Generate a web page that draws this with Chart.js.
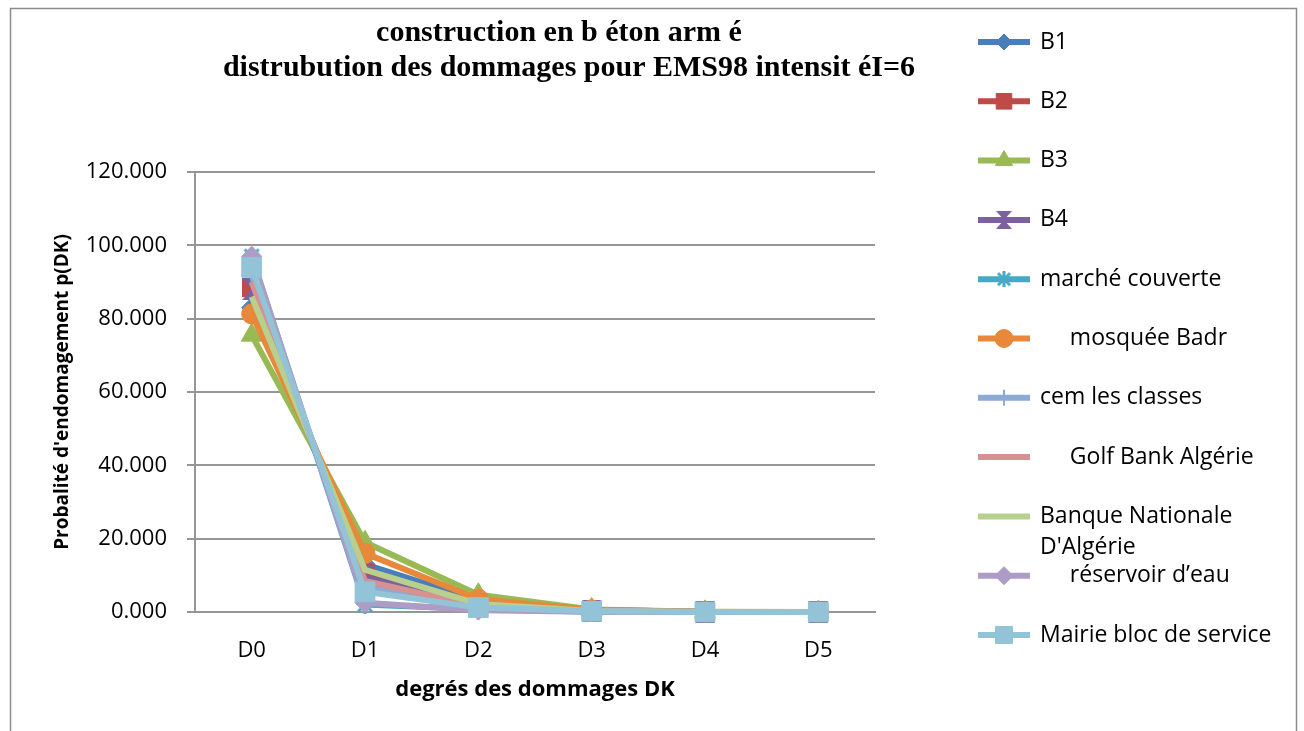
<!DOCTYPE html>
<html>
<head>
<meta charset="utf-8">
<script src="https://cdn.jsdelivr.net/npm/chart.js@4.4.1/dist/chart.umd.min.js"></script>
<style>
  html, body { margin: 0; padding: 0; background: #fff; overflow: hidden; }
  #wrap { position: relative; width: 1304px; height: 731px; }
</style>
</head>
<body>
<div id="wrap"><canvas id="chart"></canvas></div>
<script>
// categories and tick values
const categories = ['D0', 'D1', 'D2', 'D3', 'D4', 'D5'];
const yTickValues = [0, 20, 40, 60, 80, 100, 120];

const titleLines = [
  'construction en b \u00e9ton arm \u00e9',
  'distrubution des dommages pour EMS98 intensit \u00e9I=6'
];
const xTitle = 'degr\u00e9s des dommages DK';
const yTitle = "Probalit\u00e9 d'endomagement p(DK)";

const seriesNames = [
  'B1', 'B2', 'B3', 'B4', 'march\u00e9 couverte', '     mosqu\u00e9e Badr',
  'cem les classes', '     Golf Bank Alg\u00e9rie', "Banque Nationale D'Alg\u00e9rie",
  '     r\u00e9servoir d\u2019eau', 'Mairie bloc de service'
];

// p(DK) per building
const b1 = [83.0, 13.0, 3.2, 0.6, 0.02, 0];
const b2 = [88.5, 10.5, 2.5, 0.4, 0.02, 0];
const b3 = [75.5, 19.0, 4.7, 0.7, 0.05, 0];
const b4 = [88.0, 9.5, 2.0, 0.4, 0.02, 0];
const marche = [97.0, 2.0, 0.8, 0.1, 0, 0];
const mosquee = [81.3, 16.0, 3.5, 0.6, 0.03, 0];
const cem = [92.0, 7.0, 1.5, 0.2, 0, 0];
const golf = [90.0, 8.5, 1.6, 0.3, 0, 0];
const banque = [86.0, 11.5, 2.2, 0.3, 0, 0];
const reservoir = [97.0, 2.5, 0.5, 0.05, 0, 0];
const mairie = [94.0, 5.5, 1.2, 0.2, 0, 0];

const seriesData = [b1, b2, b3, b4, marche, mosquee, cem, golf, banque, reservoir, mairie];

const colors = [
  '#4A7EBB', '#BE4B48', '#98B954', '#7D60A0', '#46AAC5', '#E8883A',
  '#8DA9D5', '#D69190', '#B7D08E', '#AC9CC6', '#93C3D6'
];

// custom marker canvases
function hourglass(color, w, h) {
  const c = document.createElement('canvas');
  c.width = w; c.height = h;
  const g = c.getContext('2d');
  g.fillStyle = color;
  g.beginPath();
  g.moveTo(0, 0); g.lineTo(w, 0); g.lineTo(w / 2, h / 2);
  g.lineTo(w, h); g.lineTo(0, h); g.lineTo(w / 2, h / 2);
  g.closePath();
  g.fill();
  return c;
}

function starMarker(color, s) {
  const c = document.createElement('canvas');
  c.width = s; c.height = s;
  const g = c.getContext('2d');
  g.strokeStyle = color;
  g.lineWidth = 3;
  g.beginPath();
  g.moveTo(2, 2); g.lineTo(s - 2, s - 2);
  g.moveTo(s - 2, 2); g.lineTo(2, s - 2);
  g.moveTo(s / 2, 0); g.lineTo(s / 2, s);
  g.stroke();
  return c;
}

const markers = [
  { style: 'rectRot', r: 10 },
  { style: 'rect', r: 13 },
  { style: 'triangle', r: 12 },
  { style: hourglass(colors[3], 20, 22), r: 11 },
  { style: starMarker(colors[4], 18), r: 9 },
  { style: 'circle', r: 10 },
  { style: 'cross', r: 10 },
  { style: false, r: 0 },
  { style: false, r: 0 },
  { style: 'rectRot', r: 10 },
  { style: 'rect', r: 14 }
];

const legendMarkers = [
  { style: 'rectRot', r: 8 },
  { style: 'rect', r: 11 },
  { style: 'triangle', r: 10 },
  { style: hourglass(colors[3], 16, 18), r: 9 },
  { style: starMarker(colors[4], 16), r: 8 },
  { style: 'circle', r: 9 },
  { style: 'cross', r: 8 },
  { style: false, r: 0 },
  { style: false, r: 0 },
  { style: 'rectRot', r: 9 },
  { style: 'rect', r: 12 }
];

const datasets = seriesNames.map((name, i) => ({
  label: name,
  data: seriesData[i],
  borderColor: colors[i],
  backgroundColor: colors[i],
  borderWidth: 6,
  tension: 0,
  pointStyle: markers[i].style,
  pointRadius: markers[i].r,
  pointHoverRadius: markers[i].r,
  pointBackgroundColor: colors[i],
  pointBorderColor: colors[i],
  pointBorderWidth: markers[i].style === 'cross' ? 2 : 1,
  order: -i,
  clip: false,
}));

const labelFont = '"Open Sans", sans-serif';

const decorPlugin = {
  id: 'decor',
  beforeDraw(chart) {
    const ctx = chart.ctx;
    ctx.save();
    ctx.fillStyle = '#ffffff';
    ctx.fillRect(0, 0, chart.width, chart.height);
    ctx.strokeStyle = '#8c8c8c';
    ctx.lineWidth = 1.5;
    ctx.strokeRect(10.5, 8.5, 1286, 760);
    ctx.restore();
  },
  afterDraw(chart) {
    const ctx = chart.ctx;
    ctx.save();

    // title
    ctx.fillStyle = '#000';
    ctx.font = 'bold 30px "Liberation Serif", serif';
    ctx.textAlign = 'center';
    ctx.textBaseline = 'middle';
    ctx.fillText(titleLines[0], 559, 33);
    ctx.fillText(titleLines[1], 569, 68);

    // legend
    const x0 = 978, x1 = 1030, tx = 1040, maxW = 255;
    ctx.font = '23px ' + labelFont;
    ctx.textAlign = 'left';
    chart.data.datasets.forEach((ds, i) => {
      const y = 42 + 59.3 * i;
      ctx.strokeStyle = ds.borderColor;
      ctx.lineWidth = 6;
      ctx.beginPath();
      ctx.moveTo(x0, y);
      ctx.lineTo(x1, y);
      ctx.stroke();
      const m = legendMarkers[i];
      if (m.style) {
        ctx.fillStyle = ds.borderColor;
        ctx.lineWidth = m.style === 'cross' ? 2 : 1;
        Chart.helpers.drawPoint(ctx, { pointStyle: m.style, radius: m.r, rotation: 0, borderWidth: ctx.lineWidth }, (x0 + x1) / 2, y);
      }
      // keep leading spaces as an indent, then wrap words
      const lead = ds.label.match(/^\s*/)[0];
      const indent = lead.length * ctx.measureText(' ').width;
      const words = ds.label.trim().split(/\s+/);
      const lines = [];
      let line = '';
      words.forEach(w => {
        const test = line ? line + ' ' + w : w;
        if (line && indent + ctx.measureText(test).width > maxW) {
          lines.push(line);
          line = w;
        } else {
          line = test;
        }
      });
      lines.push(line);
      ctx.fillStyle = '#000';
      lines.forEach((l, k) => ctx.fillText(l, tx + (k === 0 ? indent : 0), y + k * 31));
    });
    ctx.restore();
  }
};

new Chart(document.getElementById('chart'), {
  type: 'line',
  data: {
    labels: categories,
    datasets: datasets,
  },
  options: {
    responsive: true,
    maintainAspectRatio: false,
    animation: false,
    layout: {
      padding: { left: 40, top: 172, right: 429, bottom: 19 },
    },
    scales: {
      x: {
        offset: true,
        grid: { display: false, drawTicks: false },
        border: { display: true, color: '#969696', width: 2 },
        ticks: {
          padding: 26,
          color: '#000',
          font: { family: labelFont, size: 22 },
        },
        title: {
          display: true,
          text: xTitle,
          color: '#000',
          font: { family: labelFont, size: 22, weight: 'bold' },
          padding: { top: 0, bottom: 9 },
        },
        afterFit: (scale) => { scale.height = 100; },
      },
      y: {
        min: 0,
        max: 120,
        afterBuildTicks: (scale) => { scale.ticks = yTickValues.map(v => ({ value: v })); },
        grid: { color: '#969696', lineWidth: 2, tickLength: 8 },
        border: { display: true, color: '#969696', width: 2 },
        ticks: {
          padding: 20,
          color: '#000',
          font: { family: labelFont, size: 22 },
          callback: (v) => Number(v).toFixed(3),
        },
        title: {
          display: true,
          text: yTitle,
          color: '#000',
          font: { family: labelFont, size: 19, weight: 'bold' },
          padding: { top: 11, bottom: 0 },
        },
        afterFit: (scale) => { scale.width = 155; },
      },
    },
    plugins: {
      legend: { display: false },
      title: { display: false },
      tooltip: { enabled: false },
    },
  },
  plugins: [decorPlugin],
});
</script>
</body>
</html>
